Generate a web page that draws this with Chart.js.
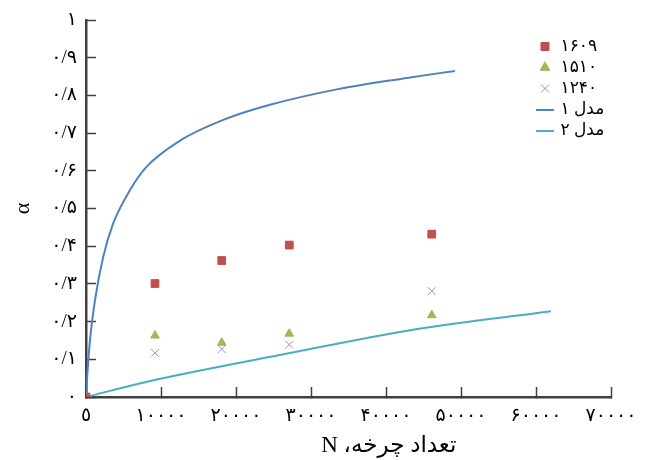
<!DOCTYPE html>
<html>
<head>
<meta charset="utf-8">
<script src="https://cdn.jsdelivr.net/npm/chart.js@4.4.1/dist/chart.umd.min.js"></script>
<style>
    html, body { margin: 0; padding: 0; background: #fff; }
</style>
</head>
<body>
<canvas id="alpha-chart" width="647" height="460"></canvas>
<script>
// measured series (N, alpha)
const cyclesN = [0, 9200, 18100, 27100, 46100];
const alpha1609 = [0, 0.301, 0.362, 0.403, 0.432];
const alpha1510 = [0, 0.163, 0.144, 0.168, 0.217];
const alpha1240 = [0, 0.117, 0.127, 0.139, 0.281];

// model curves
const model1N = [0, 100, 530, 1200, 2300, 3640, 5870, 8090, 12530, 18300, 24530, 33430, 42300, 49200];
const model1Alpha = [0, 0.036, 0.15, 0.257, 0.372, 0.461, 0.549, 0.611, 0.68, 0.735, 0.775, 0.816, 0.845, 0.865];
const model2N = [0, 8000, 26000, 44000, 62000];
const model2Alpha = [0, 0.04, 0.112, 0.18, 0.2275];

const seriesLabels = ['۱۶۰۹', '۱۵۱۰', '۱۲۴۰', 'مدل ۱', 'مدل ۲'];
const xTickLabels = ['٥', '۱۰۰۰۰', '۲۰۰۰۰', '۳۰۰۰۰', '۴۰۰۰۰', '۵۰۰۰۰', '۶۰۰۰۰', '۷۰۰۰۰'];
const yTickLabels = ['۰', '۰/۱', '۰/۲', '۰/۳', '۰/۴', '۰/۵', '۰/۶', '۰/۷', '۰/۸', '۰/۹', '۱'];

const fontFamily = '"Liberation Serif", "DejaVu Sans", serif';
const axisColor = '#404040';

function toPoints(xs, ys) {
    return xs.map((x, i) => ({ x: x, y: ys[i] }));
}

// small line sample for the legend of the model curves
function lineMark(color) {
    const c = document.createElement('canvas');
    c.width = 18;
    c.height = 2;
    const g = c.getContext('2d');
    g.fillStyle = color;
    g.fillRect(0, 0, 18, 2);
    return c;
}

// put the legend inside the plot, top right
const legendInside = {
    id: 'legendInside',
    afterLayout(chart) {
        const lg = chart.legend;
        if (!lg) return;
        const w = lg.width, h = lg.height;
        lg.left = 534;
        lg.top = 34;
        lg.right = lg.left + w;
        lg.bottom = lg.top + h;
    }
};

// let layout.padding alone decide where the plot area sits
function noScalePadding(scale) {
    scale.paddingTop = 0;
    scale.paddingBottom = 0;
    scale.paddingLeft = 0;
    scale.paddingRight = 0;
}

const target = document.getElementById('alpha-chart');

new Chart(target, {
    type: 'scatter',
    plugins: [legendInside],
    data: {
        datasets: [
            {
                label: seriesLabels[0],
                data: toPoints(cyclesN, alpha1609),
                pointStyle: 'rect',
                pointRadius: 5.5,
                backgroundColor: '#C0504D',
                borderColor: '#C0504D',
                borderWidth: 1,
            },
            {
                label: seriesLabels[1],
                data: toPoints(cyclesN, alpha1510),
                pointStyle: 'triangle',
                pointRadius: 5,
                backgroundColor: '#9BBB59',
                borderColor: '#9BBB59',
                borderWidth: 1,
            },
            {
                label: seriesLabels[2],
                data: toPoints(cyclesN, alpha1240),
                pointStyle: 'crossRot',
                pointRadius: 5.5,
                backgroundColor: '#9A8CC2',
                borderColor: '#9A8CC2',
                borderWidth: 1,
            },
            {
                label: seriesLabels[3],
                data: toPoints(model1N, model1Alpha),
                showLine: true,
                pointRadius: 0,
                pointHoverRadius: 0,
                pointStyle: lineMark('#4F81BD'),
                borderColor: '#4F81BD',
                backgroundColor: '#4F81BD',
                borderWidth: 2,
                cubicInterpolationMode: 'monotone',
            },
            {
                label: seriesLabels[4],
                data: toPoints(model2N, model2Alpha),
                showLine: true,
                pointRadius: 0,
                pointHoverRadius: 0,
                pointStyle: lineMark('#4BACC6'),
                borderColor: '#4BACC6',
                backgroundColor: '#4BACC6',
                borderWidth: 2,
                cubicInterpolationMode: 'monotone',
            },
        ]
    },
    options: {
        responsive: false,
        animation: false,
        layout: {
            padding: { left: 8, right: 36, top: 20, bottom: 0 }
        },
        scales: {
            x: {
                type: 'linear',
                min: 0,
                max: 70000,
                afterFit: (scale) => { scale.height = 63; noScalePadding(scale); },
                ticks: {
                    stepSize: 10000,
                    autoSkip: false,
                    maxRotation: 0,
                    padding: 18,
                    color: '#000',
                    font: { family: fontFamily, size: 19 },
                    callback: (v, i) => xTickLabels[i],
                },
                grid: {
                    drawOnChartArea: false,
                    tickLength: -10,
                    tickColor: axisColor,
                    tickWidth: 1.5,
                },
                border: { color: axisColor, width: 2.5 },
                title: {
                    display: true,
                    // leading spaces push the centred title to the right, as in the picture
                    text: '\u2003\u2003\u2003\u2002\u202Bتعداد چرخه، N\u202C',
                    color: '#000',
                    font: { family: fontFamily, size: 23 },
                    padding: { top: 0, bottom: 0 },
                },
            },
            y: {
                type: 'linear',
                min: 0,
                max: 1,
                afterFit: (scale) => { scale.width = 78; noScalePadding(scale); },
                ticks: {
                    stepSize: 0.1,
                    autoSkip: false,
                    padding: 19,
                    color: '#000',
                    font: { family: fontFamily, size: 19 },
                    callback: (v, i) => yTickLabels[i],
                },
                grid: {
                    drawOnChartArea: false,
                    tickLength: -10,
                    tickColor: axisColor,
                    tickWidth: 1.5,
                },
                border: { color: axisColor, width: 2.5 },
                title: {
                    display: true,
                    text: 'α',
                    color: '#000',
                    font: { family: fontFamily, size: 22 },
                    padding: { top: 2, bottom: 0 },
                },
            },
        },
        plugins: {
            tooltip: { enabled: false },
            legend: {
                display: true,
                position: 'chartArea',
                align: 'start',
                labels: {
                    usePointStyle: true,
                    boxWidth: 14,
                    boxHeight: 8,
                    padding: 4,
                    color: '#000',
                    font: { family: fontFamily, size: 17 },
                },
            },
        },
    },
});
</script>
</body>
</html>
